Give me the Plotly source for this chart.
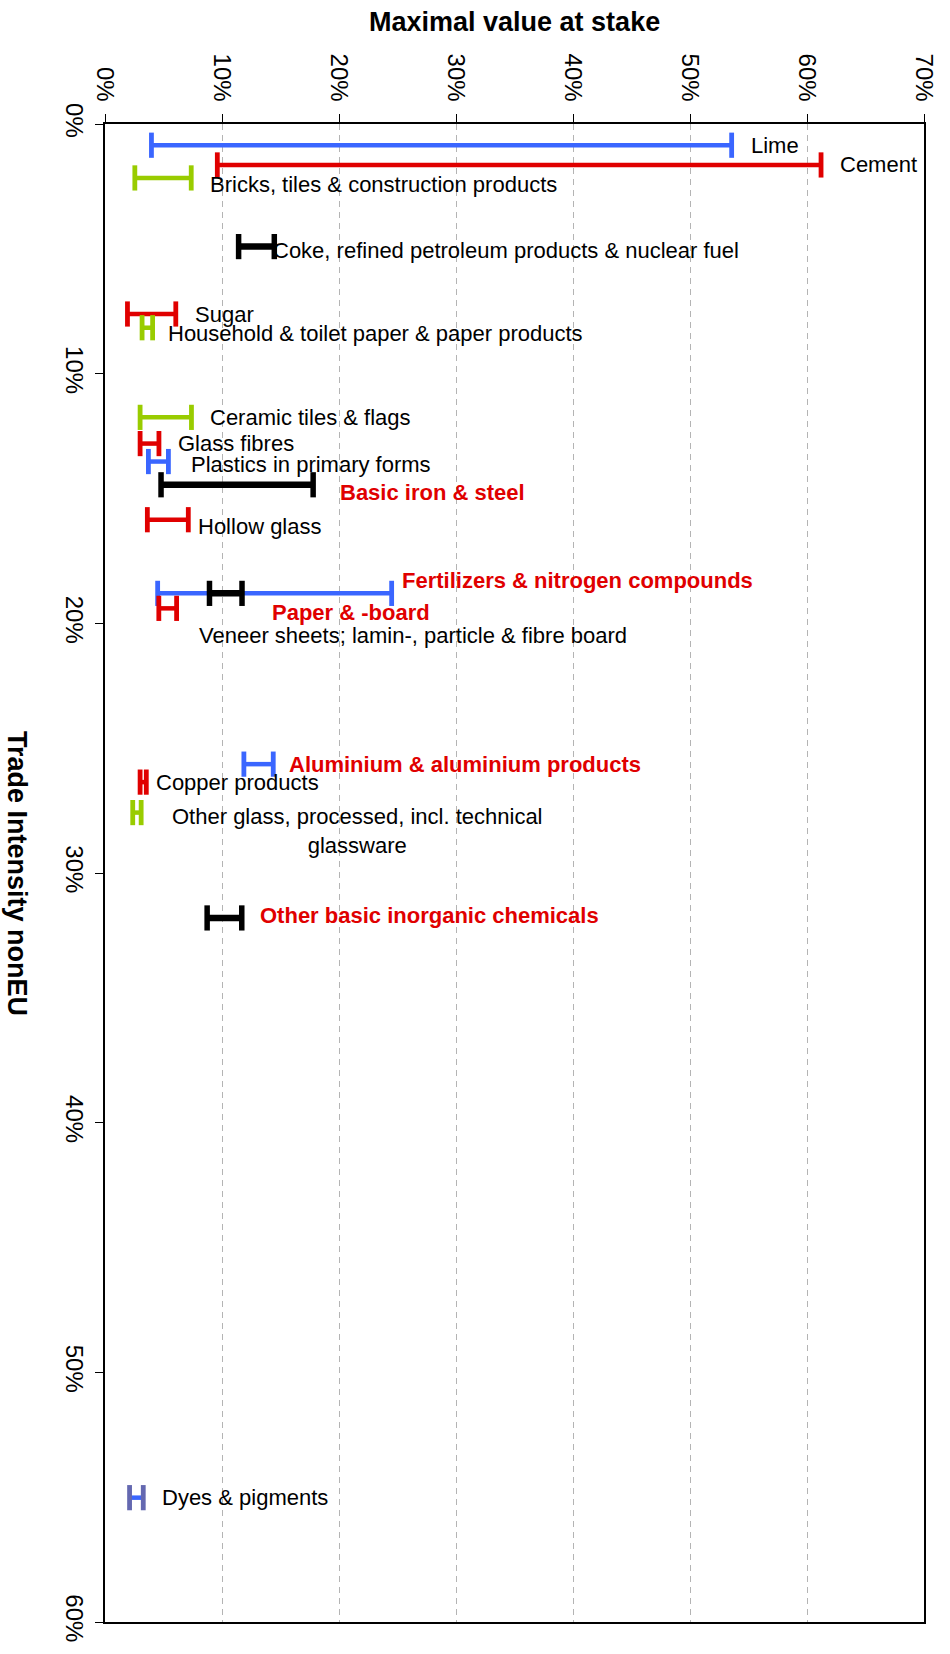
import plotly.graph_objects as go

# Sectors, their non-EU trade intensity (%) and the min/max value at stake (%)
sectors = [
    "Lime",
    "Cement",
    "Bricks, tiles & construction products",
    "Coke, refined petroleum products & nuclear fuel",
    "Sugar",
    "Household & toilet paper & paper products",
    "Ceramic tiles & flags",
    "Glass fibres",
    "Plastics in primary forms",
    "Basic iron & steel",
    "Hollow glass",
    "Fertilizers & nitrogen compounds",
    "Paper & -board",
    "Veneer sheets; lamin-, particle & fibre board",
    "Aluminium & aluminium products",
    "Copper products",
    "Other glass, processed, incl. technical<br>glassware",
    "Other basic inorganic chemicals",
    "Dyes & pigments",
]
trade_intensity = [0.85, 1.64, 2.16, 4.91, 7.61, 8.16, 11.75, 12.8, 13.52, 14.45,
                   15.85, 18.8, 19.4, 18.8, 25.64, 26.36, 27.58, 31.8, 55.02]
stake_min = [3.97, 9.6, 2.55, 11.42, 1.92, 3.17, 3.0, 3.0, 3.71, 4.79,
             3.62, 4.5, 4.6, 8.93, 11.87, 3.0, 2.37, 8.73, 2.1]
stake_max = [53.56, 61.2, 7.37, 14.47, 6.05, 4.07, 7.39, 4.61, 5.42, 17.79,
             7.12, 24.5, 6.12, 11.71, 14.38, 3.53, 3.09, 11.69, 3.27]

x_ticks = [0, 10, 20, 30, 40, 50, 60, 70]
y_ticks = [0, 10, 20, 30, 40, 50, 60]

# Styling per sector
BLUE, RED, GREEN, BLACK, SLATE = "#3a66ff", "#e00000", "#99cc00", "#000000", "#6468b0"
line_colors = [BLUE, RED, GREEN, BLACK, RED, GREEN, GREEN, RED, BLUE, BLACK,
               RED, BLUE, RED, BLACK, BLUE, RED, GREEN, BLACK, BLUE]
cap_colors = line_colors[:-1] + [SLATE]
highlight = [False, False, False, False, False, False, False, False, False, True,
             False, True, True, False, True, False, False, True, False]
# label offsets in pixels from the bar's right end: (dx, dy, anchor)
label_offsets = [
    (17, 0, "left"), (17, 0, "left"), (17, -7, "left"), (-3, -4, "left"),
    (17, 0, "left"), (13, -6, "left"), (17, 0, "left"), (17, 0, "left"),
    (21, -3, "left"), (25, -8, "left"), (8, -7, "left"), (8, 13, "left"),
    (93, -4, "left"), (-45, -42, "left"), (14, 0, "left"), (8, 0, "left"),
    (216, -18, "center"), (16, 2, "left"), (17, 0, "left"),
]

FONT = "Liberation Sans, Arial, sans-serif"

fig = go.Figure()
annotations = []
for i, name in enumerate(sectors):
    heavy = line_colors[i] == BLACK
    fig.add_trace(go.Scatter(
        x=[stake_min[i], stake_max[i]],
        y=[trade_intensity[i], trade_intensity[i]],
        mode="lines+markers",
        line=dict(color=line_colors[i], width=6.5 if heavy else 4.5),
        marker=dict(symbol="line-ns", size=18,
                    line=dict(color=cap_colors[i], width=5.5 if heavy else 4.8)),
        showlegend=False,
        hoverinfo="skip",
    ))
    dx, dy, anchor = label_offsets[i]
    annotations.append(dict(
        x=stake_max[i], y=trade_intensity[i], xref="x", yref="y",
        text=name, showarrow=False, xanchor=anchor, yanchor="middle",
        xshift=dx, yshift=dy, align="center",
        font=dict(family=FONT, size=22,
                  color=RED if highlight[i] else "#000000",
                  weight="bold" if highlight[i] else "normal"),
    ))

annotations.append(dict(
    x=0.5, y=1, xref="paper", yref="paper", yshift=102,
    text="Maximal value at stake", showarrow=False,
    xanchor="center", yanchor="middle",
    font=dict(family=FONT, size=27, color="#000000", weight="bold"),
))
annotations.append(dict(
    x=0, y=0.5, xref="paper", yref="paper", xshift=-88,
    text="Trade Intensity nonEU", showarrow=False, textangle=90,
    xanchor="center", yanchor="middle",
    font=dict(family=FONT, size=27, color="#000000", weight="bold"),
))

fig.update_layout(
    width=950, height=1654,
    margin=dict(l=105, r=22, t=124, b=31),
    paper_bgcolor="white", plot_bgcolor="white",
    annotations=annotations,
    xaxis=dict(
        range=[0, 70], side="top", tickmode="array", tickvals=x_ticks,
        ticktext=[f"{v}%" for v in x_ticks], tickangle=90,
        tickfont=dict(family=FONT, size=24, color="#000000"),
        ticks="outside", ticklen=8, tickwidth=1.2, tickcolor="#000000",
        ticklabelstandoff=4,
        showline=True, linecolor="#000000", linewidth=2, mirror=True,
        showgrid=True, gridcolor="#b4b4b4", gridwidth=1, griddash="6px,5px",
        zeroline=False,
    ),
    yaxis=dict(
        range=[60, 0], tickmode="array", tickvals=y_ticks,
        ticktext=[f"{v}%" for v in y_ticks], tickangle=90,
        tickfont=dict(family=FONT, size=24, color="#000000"),
        ticks="outside", ticklen=8, tickwidth=1.2, tickcolor="#000000",
        showline=True, linecolor="#000000", linewidth=2, mirror=True,
        showgrid=False, zeroline=False,
    ),
)

fig.write_html("out.html")
